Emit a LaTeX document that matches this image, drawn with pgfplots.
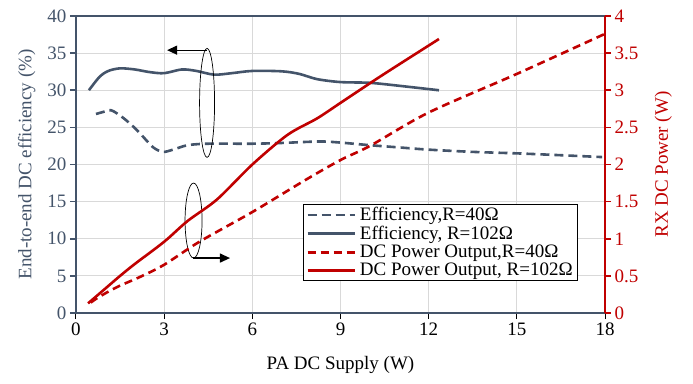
\documentclass[border=0pt]{standalone}
\usepackage{pgfplots}
\pgfplotsset{compat=1.18}
\usetikzlibrary{arrows.meta}
\usepackage{fontspec}
\setmainfont{Liberation Serif}
\definecolor{bg}{HTML}{44546A}
\definecolor{rd}{HTML}{C00000}
\definecolor{gr}{HTML}{D9D9D9}
\begin{document}
\begin{tikzpicture}
\pgfplotsset{every axis/.append style={font=\fontsize{19}{22}\selectfont, /pgf/number format/assume math mode=true}}
\begin{axis}[name=main, scale only axis, width=529pt, height=297pt,
  xmin=0, xmax=18, ymin=0, ymax=40,
  xtick={0,3,...,18}, ytick={0,5,...,40},
  grid=major, grid style={gr, line width=0.9pt},
  tick align=outside, xtick pos=bottom, ytick pos=left, major tick length=6pt,
  x axis line style={black, line width=1.2pt},
  y axis line style={bg, line width=2.8pt},
  x tick style={black, line width=1pt},
  y tick style={bg, line width=1.6pt},
  yticklabel style={text=bg},
  xlabel={PA DC Supply (W)},
  xlabel style={at={(axis description cs:0.5,-0.175)}, anchor=center},
  ylabel={End-to-end DC efficiency (\%)},
  ylabel style={at={(axis description cs:-0.093,0.5)}, anchor=center, text=bg},
  clip=false]
\addplot[bg, line width=2.6pt, dash pattern=on 9pt off 5pt, smooth, tension=0.5] coordinates {
 (0.68,26.8) (0.9,27.05) (1.2,27.3) (1.6,26.3) (1.95,25.1) (2.2,24.1) (2.63,22.3) (2.96,21.7)
 (3.3,22.0) (3.8,22.6) (4.5,22.8) (6.0,22.8) (7.0,22.9) (8.3,23.1) (9.0,22.95) (10,22.6)
 (11,22.3) (12.0,22.0) (13.5,21.7) (15,21.5) (16.5,21.25) (17.9,21.0)};
\addplot[bg, line width=2.6pt, smooth, tension=0.5] coordinates {
 (0.44,30.0) (0.8,31.8) (1.1,32.6) (1.5,32.95) (2.0,32.8) (2.5,32.45) (3.0,32.3) (3.6,32.8)
 (4.1,32.6) (4.7,32.1) (5.3,32.3) (6.0,32.6) (7.0,32.55) (7.6,32.2) (8.2,31.5) (9.0,31.1)
 (10.0,31.0) (11.0,30.6) (12.35,30.0)};
\draw[black, line width=0.7pt] (axis cs:4.46,28.3) ellipse [x radius=7.5pt, y radius=54.5pt];
\draw[black, line width=1.2pt, -{Triangle[length=10pt,width=9pt]}] (axis cs:4.46,35.4) -- (axis cs:3.1,35.4);
\draw[black, line width=0.7pt] (axis cs:4.0,12.45) ellipse [x radius=8.5pt, y radius=37.5pt];
\draw[black, line width=1.2pt, -{Triangle[length=10pt,width=9pt]}] (axis cs:3.99,7.4) -- (axis cs:5.24,7.4);
\path (current axis.south west) ++(-76pt,-70pt) (current axis.north east) ++(88pt,16pt);
\end{axis}
\begin{axis}[scale only axis, width=529pt, height=297pt,
  xmin=0, xmax=18, ymin=0, ymax=4,
  axis x line=none, axis y line*=right,
  ytick={0,0.5,...,4},
  yticklabel style={text=rd, /pgf/number format/fixed},
  tick align=outside, major tick length=6pt,
  y axis line style={rd, line width=2.8pt},
  y tick style={rd, line width=1.6pt},
  ylabel={RX DC Power (W)},
  ylabel style={at={(axis description cs:1.11,0.5)}, anchor=center, text=rd},
  legend style={at={(0.429,0.367)}, anchor=north west, draw=black, line width=0.8pt, fill=white,
    font=\fontsize{19}{20}\selectfont, inner xsep=3pt, inner ysep=1pt, row sep=0pt,
    /tikz/every odd column/.append style={column sep=2pt}},
  legend cell align=left,
  legend image code/.code={\draw[#1] (0pt,0pt) -- (47pt,0pt);}]
\addlegendimage{bg, line width=2.6pt, dash pattern=on 9pt off 5pt}
\addlegendentry{Efficiency,R=40Ω}
\addlegendimage{bg, line width=2.6pt}
\addlegendentry{Efficiency, R=102Ω}
\addplot[rd, line width=2.6pt, dash pattern=on 8pt off 5pt, smooth, tension=0.5] coordinates {
 (0.5,0.14) (0.8,0.22) (1.4,0.35) (2.2,0.49) (3.0,0.65) (4.2,0.96) (6.0,1.36) (7.8,1.79)
 (9.0,2.06) (10,2.25) (12,2.7) (15,3.22) (18,3.76)};
\addlegendentry{DC Power Output,R=40Ω}
\addplot[rd, line width=2.6pt, smooth, tension=0.5] coordinates {
 (0.41,0.13) (1.0,0.33) (1.5,0.5) (2.0,0.66) (3.0,0.96) (3.8,1.24) (4.8,1.53) (6.0,2.0)
 (7.2,2.4) (8.2,2.62) (9.0,2.83) (10.1,3.12) (11.0,3.35) (12.35,3.69)};
\addlegendentry{DC Power Output, R=102Ω}
\end{axis}
\end{tikzpicture}
\end{document}
